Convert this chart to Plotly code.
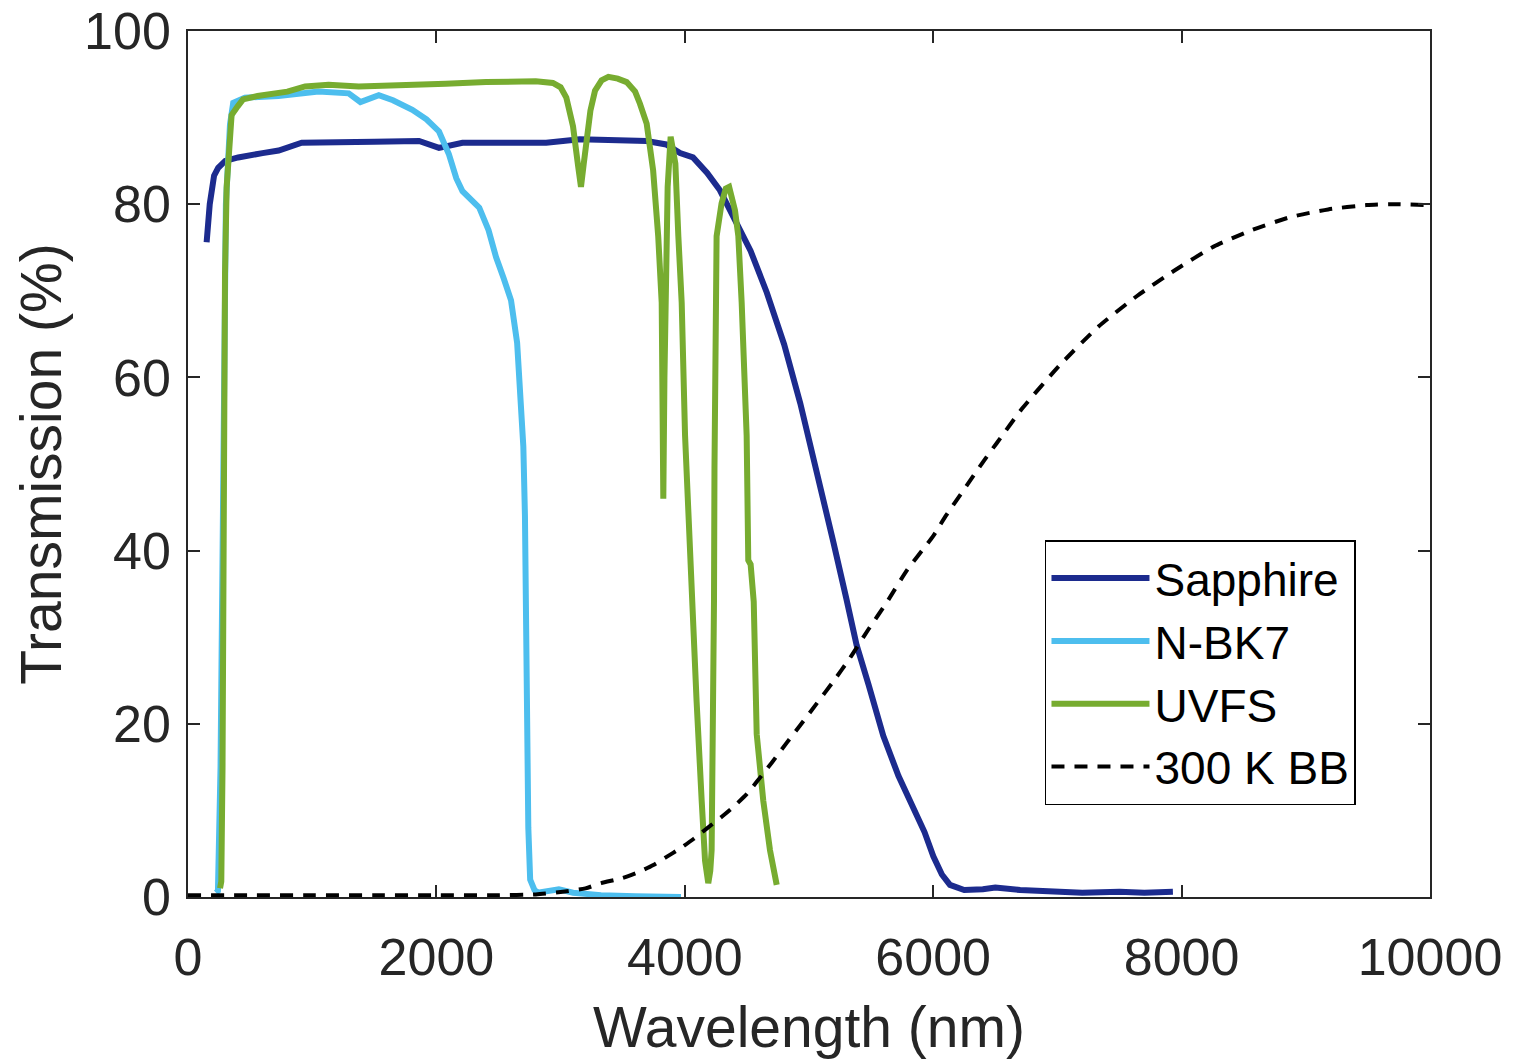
import plotly.graph_objects as go

# Wavelength (nm) and transmission (%) for each window material
sapphire_nm = [150, 175, 210, 243, 300, 404, 600, 730, 916, 1200, 1500, 1860, 2021, 2210,
               2500, 2884, 3154, 3500, 3693, 3850, 3962, 4066, 4180, 4283, 4400, 4530, 4660,
               4800, 4930, 5060, 5196, 5300, 5383, 5480, 5598, 5720, 5840, 5930, 6001, 6070,
               6135, 6250, 6400, 6500, 6700, 7000, 7200, 7500, 7700, 7930]
sapphire_T = [75.6, 80.0, 83.3, 84.2, 85.0, 85.4, 85.9, 86.2, 87.1, 87.1, 87.2, 87.3, 86.5, 87.1,
              87.1, 87.1, 87.5, 87.4, 87.3, 86.9, 85.9, 85.4, 83.6, 81.6, 78.3, 74.6, 69.8,
              63.8, 57.0, 49.5, 41.0, 34.5, 29.1, 24.5, 18.6, 14.0, 10.5, 7.5, 4.7, 2.6,
              1.4, 0.8, 0.9, 1.1, 0.8, 0.6, 0.5, 0.6, 0.5, 0.6]

bk7_nm = [225, 241, 262, 282, 305, 338, 364, 458, 728, 1051, 1294, 1388, 1536, 1650, 1806,
          1920, 2021, 2100, 2160, 2210, 2345, 2420, 2480, 2540, 2601, 2650, 2680, 2700, 2713,
          2722, 2729, 2740, 2755, 2790, 2817, 2900, 2986, 3100, 3325, 3600, 3969]
bk7_T = [0.5, 0.7, 15.0, 55.0, 80.0, 89.2, 91.7, 92.3, 92.5, 93.0, 92.8, 91.8, 92.6, 92.0, 90.9,
         89.8, 88.4, 85.8, 83.0, 81.5, 79.6, 77.0, 73.9, 71.5, 68.9, 64.0, 58.0, 52.0, 44.0,
         32.0, 20.0, 8.0, 2.0, 0.8, 0.5, 0.7, 0.9, 0.5, 0.2, 0.1, 0.0]

uvfs_nm = [258, 268, 278, 288, 298, 311, 330, 351, 400, 443, 560, 660, 800, 943, 1132, 1375,
           1700, 2075, 2400, 2614, 2800, 2938, 3000, 3046, 3075, 3100, 3140, 3164, 3185, 3210,
           3240, 3277, 3330, 3385, 3460, 3532, 3600, 3639, 3693, 3745, 3786, 3814, 3827, 3836,
           3848, 3862, 3886, 3900, 3924, 3948, 3975, 4002, 4055, 4095, 4136, 4163, 4189, 4205,
           4216, 4229, 4235, 4239, 4243, 4256, 4296, 4330, 4357, 4380, 4404, 4431, 4458, 4498,
           4511, 4530, 4555, 4579, 4632, 4686, 4740]
uvfs_T = [1.0, 1.8, 15.0, 50.0, 72.0, 81.9, 87.5, 90.3, 91.3, 92.1, 92.5, 92.7, 93.0, 93.6, 93.8,
          93.6, 93.7, 93.9, 94.1, 94.2, 94.2, 94.0, 93.5, 92.3, 90.8, 89.0, 84.5, 82.0, 84.5,
          87.4, 90.8, 93.1, 94.3, 94.7, 94.5, 94.1, 93.0, 91.6, 89.3, 83.9, 76.3, 68.6, 46.0,
          60.0, 72.0, 82.0, 87.8, 86.5, 84.7, 76.3, 68.6, 53.3, 34.1, 22.6, 11.1, 4.2, 1.6, 3.0,
          5.4, 18.8, 34.1, 49.5, 68.6, 76.3, 80.1, 81.8, 82.0, 80.8, 79.3, 76.3, 68.6, 53.3,
          38.9, 38.4, 34.1, 18.8, 11.1, 5.4, 1.4]

# 300 K blackbody emission, scaled to the same axis
bb_nm = [0, 500, 1000, 1500, 2000, 2500, 2800, 3017, 3200, 3326, 3500, 3632, 3747, 3850, 3961,
         4070, 4176, 4300, 4391, 4500, 4579, 4700, 4820, 4928, 5060, 5196, 5330, 5483, 5625,
         5792, 6001, 6101, 6250, 6409, 6511, 6716, 7025, 7333, 7641, 7949, 8258, 8565, 8873,
         9180, 9489, 9700, 10000]
bb_T = [0.2, 0.2, 0.2, 0.2, 0.2, 0.2, 0.3, 0.6, 1.0, 1.6, 2.2, 2.9, 3.7, 4.6, 5.6,
        6.7, 7.9, 9.3, 10.4, 11.9, 13.3, 15.5, 17.8, 19.8, 22.3, 24.9, 27.6, 31.0, 34.0,
        37.8, 41.7, 44.0, 47.1, 50.4, 52.4, 56.4, 61.5, 65.9, 69.4, 72.4, 75.1, 77.0, 78.5,
        79.4, 79.9, 80.0, 79.9]

x_ticks = [0, 2000, 4000, 6000, 8000, 10000]
y_ticks = [0, 20, 40, 60, 80, 100]

FONT = "Liberation Sans, Arial, Helvetica, sans-serif"
AXIS_COLOR = "#262626"

fig = go.Figure()
fig.add_trace(go.Scatter(x=sapphire_nm, y=sapphire_T, mode="lines", name="Sapphire",
                         line=dict(color="#1c2b8e", width=6)))
fig.add_trace(go.Scatter(x=bk7_nm, y=bk7_T, mode="lines", name="N-BK7",
                         line=dict(color="#4dbeee", width=6)))
fig.add_trace(go.Scatter(x=uvfs_nm, y=uvfs_T, mode="lines", name="UVFS",
                         line=dict(color="#77ac30", width=6)))
fig.add_trace(go.Scatter(x=bb_nm, y=bb_T, mode="lines", name="300 K BB",
                         line=dict(color="black", width=4, dash="13px,10px",
                                   shape="spline", smoothing=0.6)))

axis_common = dict(
    showline=True, linecolor=AXIS_COLOR, linewidth=1.5, mirror="allticks",
    ticks="inside", ticklen=12, tickwidth=1.5, tickcolor=AXIS_COLOR,
    showgrid=False, zeroline=False, ticklabeloverflow="allow", automargin=False,
    tickfont=dict(family=FONT, size=52, color=AXIS_COLOR),
)

fig.update_xaxes(range=[0, 10000], tickvals=x_ticks, ticktext=[str(v) for v in x_ticks],
                 ticklabelstandoff=14,
                 title=dict(text="Wavelength (nm)", standoff=22,
                            font=dict(family=FONT, size=57, color=AXIS_COLOR)),
                 **axis_common)
fig.update_yaxes(range=[0, 100.0001], tickvals=y_ticks, ticktext=[str(v) for v in y_ticks],
                 ticklabelstandoff=5,
                 title=dict(text="Transmission (%)", standoff=4,
                            font=dict(family=FONT, size=57, color=AXIS_COLOR)),
                 **axis_common)

fig.update_layout(
    width=1513, height=1061,
    margin=dict(l=188, r=83, t=31, b=164),
    paper_bgcolor="white", plot_bgcolor="white",
    showlegend=True,
    legend=dict(x=0.69, y=0.412, xanchor="left", yanchor="top",
                bgcolor="white", bordercolor="black", borderwidth=1.5,
                font=dict(family=FONT, size=46, color="black"),
                itemwidth=98, tracegroupgap=0, entrywidth=258, entrywidthmode="pixels"),
)

fig.write_html("out.html")
